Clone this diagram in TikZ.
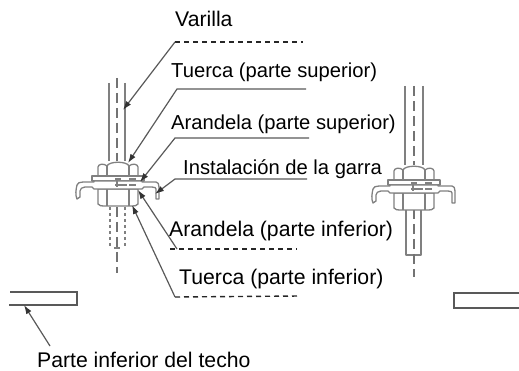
\documentclass[tikz,border=0pt]{standalone}
\usepackage{fontspec}
\setmainfont{Liberation Sans}
\usetikzlibrary{arrows.meta}
\tikzset{
  etiqueta/.style={anchor=base west,inner sep=0pt,font=\fontsize{20.2}{24}\selectfont,text=black},
  etiquetagrande/.style={etiqueta,font=\fontsize{21.2}{25}\selectfont},
  guia/.style={draw=black!65,line width=1.2pt,-{Latex[length=9pt,width=6pt,black!80]}},
  raya/.style={draw=black!85,line width=1.4pt,dash pattern=on 5pt off 4pt},
  linea/.style={draw=black!50,line width=1.3pt,line join=round},
  eje/.style={draw=black!55,line width=1.2pt,dash pattern=on 10pt off 5pt},
  placa/.style={draw=black!65,line width=1.5pt}
}
% tuercas, arandela y garra, centradas en x=0
\newcommand{\garra}{
  \draw[linea,fill=white] (-20,15) -- (-20,6) .. controls (-20,3) and (-14,2) .. (-11,5) .. controls (-9,0) and (9,0) .. (11,5) .. controls (14,2) and (20,3) .. (20,6) -- (20,15) -- cycle; % tuerca superior
  \draw[linea] (-11,5) -- (-11,15) (11,5) -- (11,15); % caras superior
  \draw[linea,fill=white] (-26,15) -- (26,15) -- (26,20) -- (-26,20) -- cycle; % arandela superior
  \draw[linea,fill=white] (-20,28) -- (-20,43) .. controls (-19,45) and (-16,45) .. (-14,45) -- (14,45) .. controls (16,45) and (19,45) .. (20,43) -- (20,28) -- cycle; % tuerca inferior
  \draw[linea] (-11,28) -- (-11,45) (11,28) -- (11,45); % caras inferior
  \draw[linea,fill=white] (-41,38) .. controls (-43,34) and (-42,28) .. (-41,24) .. controls (-41,22) and (-38,21) .. (-35,21) -- (-24,21) -- (-24,20) -- (24,20) -- (24,21) -- (38,21) .. controls (40,21) and (41,23) .. (41,26) -- (41,38) -- (38,38) -- (38,28) .. controls (38,27) and (37,26) .. (34,26) -- (26,26) -- (24,28) -- (-24,28) -- (-26,26) -- (-33,26) .. controls (-36,26) and (-38,28) .. (-38,30) -- (-38,36) -- cycle; % garra
  \draw[linea] (-3,18) -- (3,18) (-1,18) -- (-1,26) (-3,24) -- (9,24) (11,18) -- (18,18) (11,24) -- (18,24); % rayas interiores
}
\begin{document}
\begin{tikzpicture}[x=1pt,y=-1pt]
  \useasboundingbox (0,0) rectangle (519,371);
  % textos
  \node[etiquetagrande] (varilla) at (175,27) {Varilla};
  \node[etiqueta] (tuercasup) at (171,78) {Tuerca (parte superior)};
  \node[etiqueta] (arandelasup) at (171,130) {Arandela (parte superior)};
  \node[etiqueta] (instalacion) at (183,175) {Instalación de la garra};
  \node[etiquetagrande] (arandelainf) at (169,237) {Arandela (parte inferior)};
  \node[etiquetagrande] (tuercainf) at (179,284) {Tuerca (parte inferior)};
  \node[etiquetagrande] (techo) at (37,367) {Parte inferior del techo};
  % varilla izquierda
  \draw[linea] (109,83) -- (109,161) (125,83) -- (125,161);
  \draw[eje] (117,78) -- (117,161);
  \draw[linea,dashed] (110,207) -- (110,248) (125,207) -- (125,248);
  \draw[linea] (114,248) -- (120,248);
  \draw[eje] (117,207) -- (117,273);
  \begin{scope}[shift={(118,161)}]
    \garra
  \end{scope}
  % varilla derecha
  \draw[linea] (405,86) -- (405,165) (423,86) -- (423,165);
  \draw[eje] (414,86) -- (414,165);
  \draw[linea] (406,209) -- (406,255) -- (421,255) -- (421,209);
  \draw[eje] (414,209) -- (414,277);
  \begin{scope}[shift={(414,165)}]
    \garra
  \end{scope}
  % placas del techo
  \draw[placa] (10,292) -- (77,292) -- (77,305) -- (9,305);
  \draw[placa] (519,293) -- (454,293) -- (454,308) -- (519,308);
  % puntos de las guias
  \coordinate (p1) at (175,42);
  \coordinate (p1fin) at (303,42);
  \coordinate (t1) at (123,110);
  \coordinate (p2) at (177,89);
  \coordinate (p2fin) at (306,89);
  \coordinate (t2) at (128,163);
  \coordinate (p3) at (175,138);
  \coordinate (p3fin) at (309,138);
  \coordinate (t3) at (140,182);
  \coordinate (p4) at (175,179);
  \coordinate (p4fin) at (307,179);
  \coordinate (t4) at (155,194);
  \coordinate (p5) at (177,249);
  \coordinate (p5ini) at (170,249);
  \coordinate (p5fin) at (297,249);
  \coordinate (t5) at (138,190);
  \coordinate (p6) at (175,297);
  \coordinate (p6fin) at (300,296);
  \coordinate (t6) at (132,205);
  \coordinate (p7) at (50,346);
  \coordinate (t7) at (24,305);
  % guias
  \draw[raya] (p1) -- (p1fin);
  \draw[guia] (p1) -- (t1);
  \draw[guia] (p2fin) -- (p2) -- (t2);
  \draw[guia] (p3fin) -- (p3) -- (t3);
  \draw[guia] (p4fin) -- (p4) -- (t4);
  \draw[raya] (p5ini) -- (p5fin);
  \draw[guia] (p5) -- (t5);
  \draw[raya] (p6) -- (p6fin);
  \draw[guia] (p6) -- (t6);
  \draw[guia] (p7) -- (t7);
\end{tikzpicture}
\end{document}
